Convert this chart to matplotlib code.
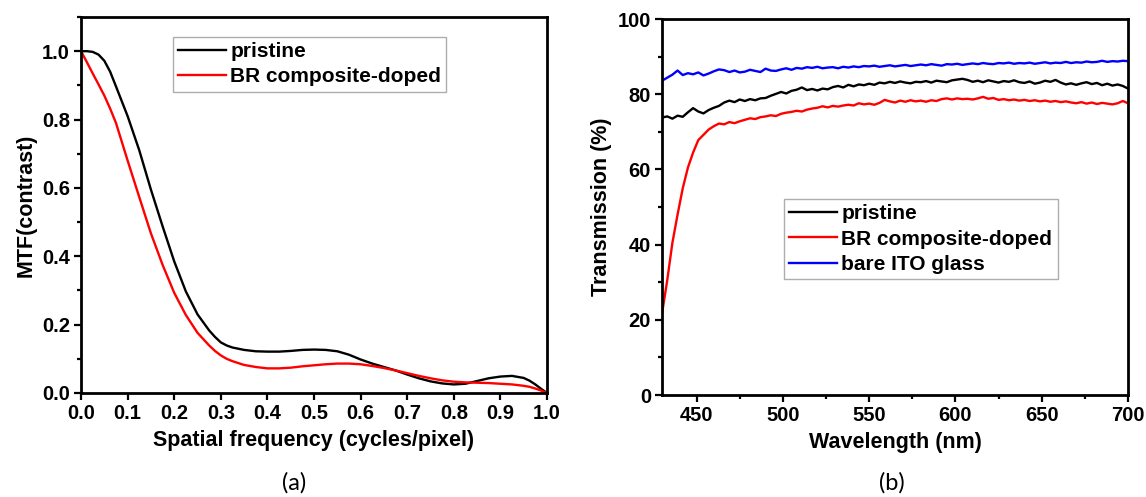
import numpy as np
import matplotlib
matplotlib.use("Agg")
import matplotlib.pyplot as plt
from matplotlib.ticker import MultipleLocator, FormatStrFormatter

plt.rcParams['font.family'] = ['Liberation Sans', 'DejaVu Sans']
plt.rcParams['font.weight'] = 'bold'
plt.rcParams['axes.labelweight'] = 'bold'

# MTF curves, spatial frequency in cycles/pixel
freq = [0.000, 0.0125, 0.025, 0.0375, 0.050, 0.0625, 0.075,
        0.100, 0.125, 0.150, 0.175, 0.200, 0.225, 0.250, 0.275,
        0.2875, 0.300, 0.3125,
        0.325, 0.350, 0.375, 0.400, 0.425, 0.450, 0.475, 0.500, 0.525, 0.550,
        0.575, 0.600, 0.625, 0.650, 0.675, 0.700, 0.725, 0.750, 0.775, 0.800,
        0.825, 0.850, 0.875, 0.900, 0.925, 0.950,
        0.9625, 0.975, 0.9875, 1.000]
mtf_pristine = [1.000, 1.000, 0.998, 0.990, 0.972, 0.940, 0.897,
                0.810, 0.710, 0.595, 0.488, 0.385, 0.297, 0.230, 0.183,
                0.164, 0.148, 0.139,
                0.133, 0.126, 0.122, 0.121, 0.121, 0.123, 0.126, 0.127, 0.126, 0.122,
                0.112, 0.098, 0.086, 0.076, 0.066, 0.054, 0.043, 0.034, 0.028, 0.025,
                0.027, 0.035, 0.043, 0.048, 0.050, 0.044,
                0.036, 0.025, 0.012, 0.000]
mtf_doped = [1.000, 0.968, 0.935, 0.903, 0.870, 0.832, 0.790,
             0.680, 0.573, 0.467, 0.375, 0.293, 0.228, 0.176, 0.139,
             0.123, 0.110, 0.100,
             0.093, 0.082, 0.076, 0.072, 0.072, 0.074, 0.078, 0.081, 0.084, 0.086,
             0.086, 0.084, 0.079, 0.073, 0.066, 0.058, 0.050, 0.043, 0.037, 0.033,
             0.031, 0.030, 0.029, 0.027, 0.025, 0.021,
             0.018, 0.013, 0.007, 0.000]

# transmission spectra, 430-700 nm in 3 nm steps
wavelength = np.arange(430, 701, 3)
trans_pristine = [73.8, 74.1, 73.5, 74.3, 74.0, 75.2, 76.3, 75.4, 74.9, 75.8,
                  76.4, 76.9, 77.8, 78.3, 77.9, 78.6, 78.2, 78.7, 78.4, 78.9,
                  79.0, 79.6, 80.1, 80.6, 80.2, 80.9, 81.2, 81.8, 81.1, 81.4,
                  81.0, 81.5, 81.3, 81.9, 82.2, 81.8, 82.5, 82.1, 82.6, 82.4,
                  82.8, 82.5, 83.1, 82.9, 83.3, 83.0, 83.4, 83.1, 82.9, 83.3,
                  83.2, 83.5, 83.1, 83.6, 83.4, 83.2, 83.7, 83.9, 84.1, 83.8,
                  83.3, 83.6, 83.2, 83.7, 83.4, 83.1, 83.5, 83.3, 83.7, 83.2,
                  83.0, 83.4, 82.8, 83.1, 83.6, 83.3, 83.8, 83.1, 82.6, 82.9,
                  82.5, 82.9, 83.2, 82.7, 83.0, 82.4, 82.8, 82.3, 82.6, 82.2,
                  81.5]
trans_doped = [21.7, 30.5, 40.5, 48.0, 55.0, 60.5, 64.5, 67.8, 69.2, 70.6,
               71.5, 72.2, 72.0, 72.6, 72.3, 72.8, 73.2, 73.6, 73.4, 73.9,
               74.1, 74.4, 74.2, 74.8, 75.1, 75.3, 75.6, 75.4, 75.9, 76.2,
               76.4, 76.8, 76.5, 76.9, 76.7, 77.0, 77.2, 77.0, 77.6, 77.3,
               77.5, 77.2, 77.7, 78.5, 78.1, 77.8, 78.3, 78.0, 78.4, 78.1,
               78.3, 78.0, 78.4, 78.2, 78.7, 78.9, 78.6, 78.9, 78.7, 78.8,
               78.6, 78.9, 79.3, 78.8, 79.0, 78.5, 78.7, 78.4, 78.6, 78.3,
               78.5, 78.2, 78.4, 78.1, 78.3, 78.0, 78.2, 77.9, 78.1, 77.8,
               77.6, 77.9, 77.5, 77.8, 77.4, 77.7, 77.5, 77.3, 77.6, 78.2,
               77.6]
trans_ito = [83.6, 84.4, 85.2, 86.3, 85.1, 85.6, 85.3, 85.8, 85.0, 85.5,
             86.1, 86.6, 86.4, 85.9, 86.3, 85.8, 86.0, 86.5, 86.2, 85.9,
             86.8, 86.3, 86.2, 86.6, 86.9, 86.5, 87.0, 86.8, 87.2, 87.0,
             87.3, 86.9, 87.1, 87.2, 86.9, 87.3, 87.1, 87.4, 87.2, 87.5,
             87.4, 87.6, 87.3, 87.5, 87.7, 87.4, 87.6, 87.8, 87.5, 87.7,
             87.9, 87.7, 88.0, 87.8, 87.6, 88.0, 87.9, 88.1, 87.8, 88.0,
             88.2, 88.0, 88.3, 88.1, 88.0, 88.3, 88.2, 88.4, 88.1, 88.3,
             88.2, 88.4, 88.1, 88.3, 88.5, 88.2, 88.4, 88.3, 88.6, 88.3,
             88.5, 88.4, 88.7, 88.5, 88.6, 88.9, 88.6, 88.8, 88.7, 88.9,
             88.8]

fig = plt.figure(figsize=(11.46, 4.97), dpi=100)
ax1 = fig.add_axes([0.0707, 0.2093, 0.4066, 0.7565])
ax2 = fig.add_axes([0.5777, 0.2052, 0.4066, 0.7565])

lw = 1.7
for ax in (ax1, ax2):
    for s in ax.spines.values():
        s.set_linewidth(2.0)
    ax.tick_params(which='both', direction='out', top=False, right=False,
                   width=1.6, labelsize=14.5, pad=3)
    ax.tick_params(which='major', length=5)
    ax.tick_params(which='minor', length=3)

leg_kw = dict(loc='upper left', borderaxespad=0, fancybox=False,
              edgecolor='#999999', fontsize=15, handlelength=2.3,
              handletextpad=0.2, labelspacing=0.3, borderpad=0.25)

# (a) MTF
ax1.plot(freq, mtf_pristine, color='black', lw=lw, label='pristine')
ax1.plot(freq, mtf_doped, color='red', lw=lw, label='BR composite-doped')
ax1.set_xlim(0, 1)
ax1.set_ylim(0, 1.1)
ax1.xaxis.set_major_locator(MultipleLocator(0.1))
ax1.yaxis.set_major_locator(MultipleLocator(0.2))
ax1.yaxis.set_minor_locator(MultipleLocator(0.1))
ax1.xaxis.set_major_formatter(FormatStrFormatter('%.1f'))
ax1.yaxis.set_major_formatter(FormatStrFormatter('%.1f'))
ax1.set_xlabel('Spatial frequency (cycles/pixel)', fontsize=15.5, labelpad=5)
ax1.set_ylabel('MTF(contrast)', fontsize=15.5, labelpad=4)
leg1 = ax1.legend(bbox_to_anchor=(0.197, 0.947), **leg_kw)
leg1.get_frame().set_linewidth(1.0)

# (b) transmission
ax2.plot(wavelength, trans_pristine, color='black', lw=lw, label='pristine')
ax2.plot(wavelength, trans_doped, color='red', lw=lw, label='BR composite-doped')
ax2.plot(wavelength, trans_ito, color='blue', lw=lw, label='bare ITO glass')
ax2.set_xlim(430, 700)
ax2.set_ylim(0, 100)
ax2.xaxis.set_major_locator(MultipleLocator(50))
ax2.xaxis.set_minor_locator(MultipleLocator(25))
ax2.yaxis.set_major_locator(MultipleLocator(20))
ax2.yaxis.set_minor_locator(MultipleLocator(10))
ax2.set_xlabel('Wavelength (nm)', fontsize=15.5, labelpad=5)
ax2.set_ylabel('Transmission (%)', fontsize=15.5, labelpad=4)
leg2 = ax2.legend(bbox_to_anchor=(0.262, 0.521), **leg_kw)
leg2.get_frame().set_linewidth(1.0)

fig.text(0.257, 0.028, '(a)', ha='center', va='center', fontsize=17,
         fontweight='normal', family=['Lato', 'DejaVu Sans'])
fig.text(0.778, 0.028, '(b)', ha='center', va='center', fontsize=17,
         fontweight='normal', family=['Lato', 'DejaVu Sans'])

fig.savefig('out.png', dpi=100)
